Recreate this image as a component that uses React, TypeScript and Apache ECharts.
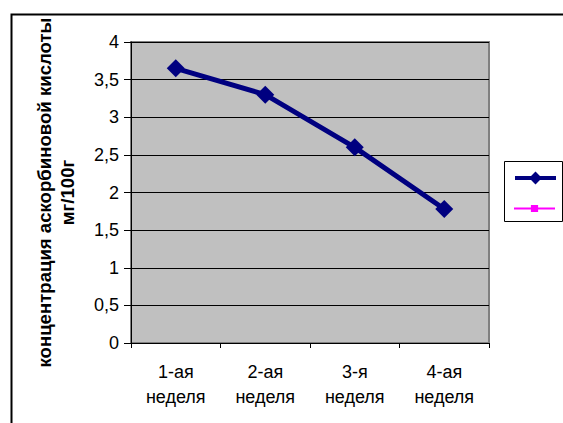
import React, { useEffect, useRef } from "react";
import * as echarts from "echarts";

const categories = ["1-ая\nнеделя", "2-ая\nнеделя", "3-я\nнеделя", "4-ая\nнеделя"];
const seriesAscorbic = [3.65, 3.3, 2.6, 1.78];
const seriesSecond: (number | null)[] = [null, null, null, null];
const yAxisTitle = "концентрация аскорбиновой кислоты\nмг/100г";

export default function App() {
  const ref = useRef<HTMLDivElement>(null);
  useEffect(() => {
    if (!ref.current) return;
    const chart = echarts.init(ref.current, null, { renderer: "svg" });
    const font = "'Liberation Sans', Arial, sans-serif";
    chart.setOption({
      animation: false,
      textStyle: { fontFamily: font },
      grid: {
        left: 131,
        top: 42,
        right: 74,
        bottom: 80,
        show: true,
        backgroundColor: "#C0C0C0",
        borderColor: "#808080",
        borderWidth: 2,
        containLabel: false,
      },
      graphic: [
        {
          type: "rect",
          left: 9,
          top: 12,
          shape: { width: 600, height: 500 },
          style: { fill: "none", stroke: "#000", lineWidth: 2 },
          silent: true,
          z: 100,
        },
        {
          type: "rect",
          left: 504,
          top: 161,
          shape: { width: 58, height: 60 },
          style: { fill: "#fff", stroke: "#000", lineWidth: 1 },
          silent: true,
          z: 0,
        },
      ],
      legend: [
        {
          left: 513,
          top: 170,
          orient: "vertical",
          data: [" "],
          formatter: () => "",
          itemWidth: 41,
          itemHeight: 16,
          lineStyle: { width: 4 },
          padding: 0,
          z: 5,
        },
        {
          left: 513,
          top: 204,
          orient: "vertical",
          data: ["  "],
          formatter: () => "",
          itemWidth: 41,
          itemHeight: 9,
          padding: 0,
          z: 5,
        },
      ],
      xAxis: {
        type: "category",
        data: categories,
        boundaryGap: true,
        axisLine: { show: true, lineStyle: { color: "#000", width: 1 } },
        axisTick: { show: true, inside: false, length: 5, lineStyle: { color: "#000" } },
        axisLabel: {
          color: "#000",
          fontSize: 18,
          lineHeight: 25,
          margin: 16,
          fontFamily: font,
        },
        splitLine: { show: false },
      },
      yAxis: {
        type: "value",
        min: 0,
        max: 4,
        interval: 0.5,
        name: yAxisTitle,
        nameLocation: "middle",
        nameGap: 52,
        nameTextStyle: {
          color: "#000",
          fontSize: 18.6,
          fontWeight: "bold",
          lineHeight: 23,
          fontFamily: font,
        },
        axisLine: { show: true, lineStyle: { color: "#000", width: 1 } },
        axisTick: { show: true, inside: false, length: 7, lineStyle: { color: "#000" } },
        axisLabel: {
          color: "#000",
          fontSize: 18,
          margin: 12,
          fontFamily: font,
          formatter: (v: number) => String(v).replace(".", ","),
        },
        splitLine: { show: true, lineStyle: { color: "#000", width: 1 } },
      },
      series: [
        {
          name: " ",
          type: "line",
          data: seriesAscorbic,
          symbol: "diamond",
          symbolSize: 18,
          color: "#000080",
          lineStyle: { color: "#000080", width: 5 },
          itemStyle: { color: "#000080" },
        },
        {
          name: "  ",
          type: "line",
          data: seriesSecond,
          symbol: "rect",
          symbolSize: 8,
          color: "#FF00FF",
          lineStyle: { color: "#FF00FF", width: 1 },
          itemStyle: { color: "#FF00FF" },
        },
      ],
    });
    return () => chart.dispose();
  }, []);
  return (
    <div
      ref={ref}
      style={{ position: "fixed", left: 0, top: 0, width: 563, height: 423, background: "#fff" }}
    />
  );
}
